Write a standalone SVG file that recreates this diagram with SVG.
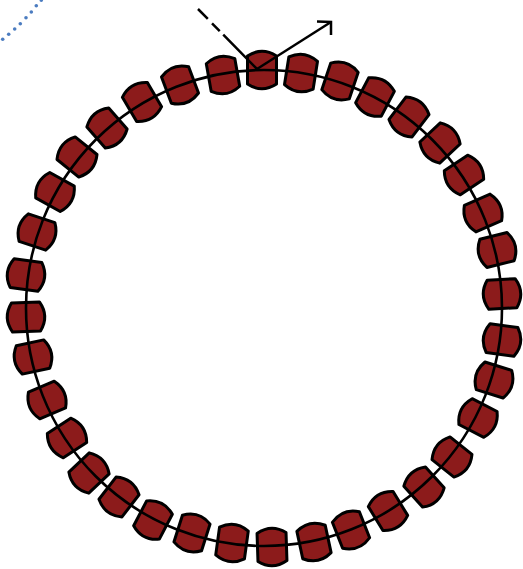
<svg xmlns="http://www.w3.org/2000/svg" xmlns:xlink="http://www.w3.org/1999/xlink" width="523" height="569" viewBox="0 0 523 569">
<style>
.bead{fill:#8c1b1b;stroke:#000;stroke-width:3;stroke-linejoin:round}
.ring{fill:none;stroke:#000;stroke-width:2.6}
.ray{fill:none;stroke:#000;stroke-width:2.5;stroke-linecap:butt}
.dot{fill:#4b7cc0}
</style>
<defs>
<path id="beadShape" class="bead" d="M-14.5,-14 Q0,-23.5 14.5,-14 L14.5,14 Q0,23.5 -14.5,14 Z"/>
</defs>
<rect width="523" height="569" fill="#fff"/>
<g id="blue-dots">
<circle class="dot" cx="2.7" cy="39.3" r="1.8"/>
<circle class="dot" cx="8.7" cy="34.3" r="1.8"/>
<circle class="dot" cx="14.7" cy="29" r="1.8"/>
<circle class="dot" cx="20.3" cy="23.7" r="1.8"/>
<circle class="dot" cx="26" cy="17.7" r="1.8"/>
<circle class="dot" cx="31.3" cy="12" r="1.8"/>
<circle class="dot" cx="36.3" cy="5.7" r="1.8"/>
<circle class="dot" cx="41.3" cy="0.3" r="1.8"/>
</g>
<g id="beads">
<g id="bead-1"><use href="#beadShape" transform="translate(262,70) rotate(0)"/></g>
<g id="bead-2"><use href="#beadShape" transform="translate(301,73) rotate(8.9)"/></g>
<g id="bead-3"><use href="#beadShape" transform="translate(340,81) rotate(18.5)"/></g>
<g id="bead-4"><use href="#beadShape" transform="translate(375,97) rotate(27.7)"/></g>
<g id="bead-5"><use href="#beadShape" transform="translate(409,117) rotate(37.2)"/></g>
<g id="bead-6"><use href="#beadShape" transform="translate(440,143) rotate(46.8)"/></g>
<g id="bead-7"><use href="#beadShape" transform="translate(464,175) rotate(56.4)"/></g>
<g id="bead-8"><use href="#beadShape" transform="translate(483,213) rotate(66.6)"/></g>
<g id="bead-9"><use href="#beadShape" transform="translate(497,250) rotate(76)"/></g>
<g id="bead-10"><use href="#beadShape" transform="translate(502,294) rotate(86.6)"/></g>
<g id="bead-11"><use href="#beadShape" transform="translate(502,340) rotate(97.7)"/></g>
<g id="bead-12"><use href="#beadShape" transform="translate(494,380) rotate(107.4)"/></g>
<g id="bead-13"><use href="#beadShape" transform="translate(478,418) rotate(117.2)"/></g>
<g id="bead-14"><use href="#beadShape" transform="translate(452,457) rotate(128.4)"/></g>
<g id="bead-15"><use href="#beadShape" transform="translate(424,487) rotate(138.2)"/></g>
<g id="bead-16"><use href="#beadShape" transform="translate(388,511) rotate(148.6)"/></g>
<g id="bead-17"><use href="#beadShape" transform="translate(351,530) rotate(158.6)"/></g>
<g id="bead-18"><use href="#beadShape" transform="translate(314,542) rotate(167.9)"/></g>
<g id="bead-19"><use href="#beadShape" transform="translate(272,547) rotate(178.1)"/></g>
<g id="bead-20"><use href="#beadShape" transform="translate(232,543) rotate(187.8)"/></g>
<g id="bead-21"><use href="#beadShape" transform="translate(192,533) rotate(197.7)"/></g>
<g id="bead-22"><use href="#beadShape" transform="translate(153,520) rotate(207.6)"/></g>
<g id="bead-23"><use href="#beadShape" transform="translate(119,497) rotate(217.5)"/></g>
<g id="bead-24"><use href="#beadShape" transform="translate(89,473) rotate(226.7)"/></g>
<g id="bead-25"><use href="#beadShape" transform="translate(67,438) rotate(236.6)"/></g>
<g id="bead-26"><use href="#beadShape" transform="translate(47,400) rotate(247)"/></g>
<g id="bead-27"><use href="#beadShape" transform="translate(33,357) rotate(258)"/></g>
<g id="bead-28"><use href="#beadShape" transform="translate(26,317) rotate(267.8)"/></g>
<g id="bead-29"><use href="#beadShape" transform="translate(26,275) rotate(-82.1)"/></g>
<g id="bead-30"><use href="#beadShape" transform="translate(37,232) rotate(-71.5)"/></g>
<g id="bead-31"><use href="#beadShape" transform="translate(55,192) rotate(-61)"/></g>
<g id="bead-32"><use href="#beadShape" transform="translate(77,157) rotate(-51.1)"/></g>
<g id="bead-33"><use href="#beadShape" transform="translate(107,128) rotate(-41.1)"/></g>
<g id="bead-34"><use href="#beadShape" transform="translate(142,102) rotate(-30.6)"/></g>
<g id="bead-35"><use href="#beadShape" transform="translate(180,85) rotate(-20.6)"/></g>
<g id="bead-36"><use href="#beadShape" transform="translate(223,75) rotate(-10)"/></g>
</g>
<g id="connectors">
<circle class="ring" cx="264" cy="308" r="238"/>
<path class="ray" d="M198,9 L257,69" stroke-dasharray="14 6 11 5 80"/>
<path class="ray" d="M257,69 L331,22"/>
<polyline class="ray" points="317,21.5 331,22 331,35" stroke-linejoin="miter"/>
</g>
</svg>
